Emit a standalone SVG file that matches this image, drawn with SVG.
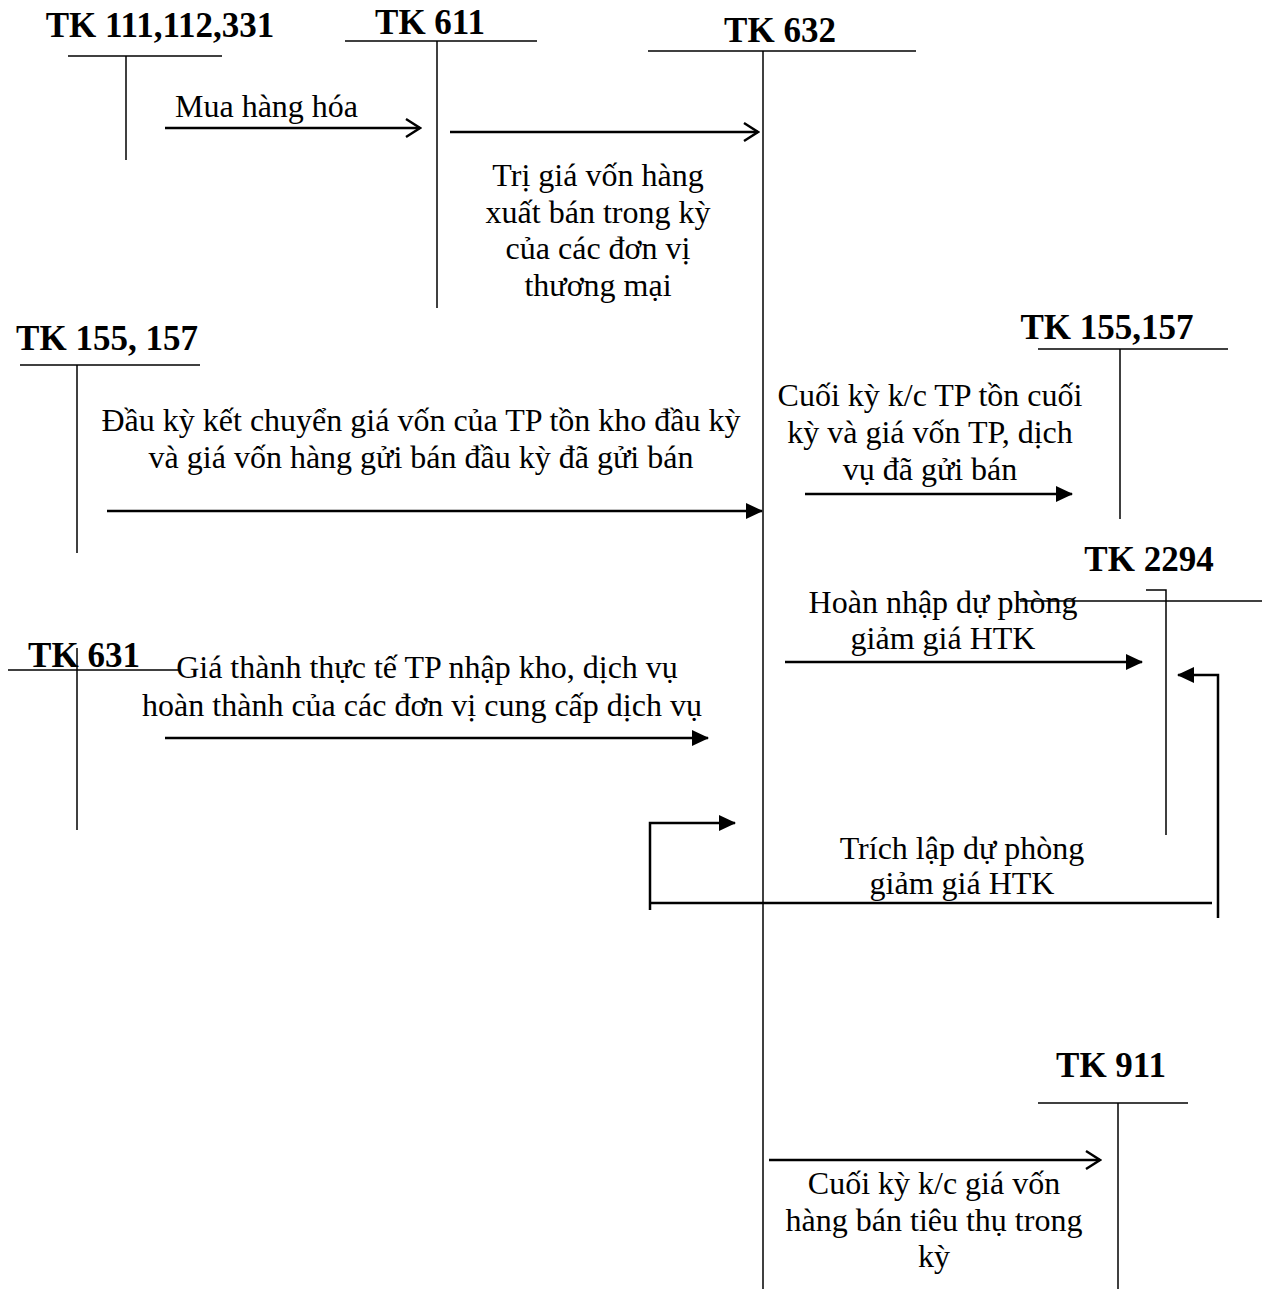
<svg xmlns="http://www.w3.org/2000/svg" width="1267" height="1289" viewBox="0 0 1267 1289">
<defs>
<marker id="open" markerWidth="18" markerHeight="22" refX="16" refY="11" orient="auto" markerUnits="userSpaceOnUse">
<path d="M2,2 L16,11 L2,20" fill="none" stroke="#000" stroke-width="2.4"/>
</marker>
<marker id="solid" markerWidth="17" markerHeight="16" refX="16" refY="8" orient="auto" markerUnits="userSpaceOnUse">
<path d="M0,0 L17,8 L0,16 Z" fill="#000"/>
</marker>
</defs>
<style>
.t{font-family:"Liberation Serif","Times New Roman",serif;font-size:32px;fill:#000}
.h{font-family:"Liberation Serif","Times New Roman",serif;font-size:35px;font-weight:bold;fill:#000}
.acc line,.acc polyline{stroke:#000;stroke-width:1.5;fill:none}
.c line,.c polyline{stroke:#000;stroke-width:2.5;fill:none}
.m{text-anchor:middle}
</style>
<rect width="1267" height="1289" fill="#fff"/>

<g id="tk111" class="acc">
<text class="h m" x="160" y="37">TK 111,112,331</text>
<line x1="68" y1="56" x2="222" y2="56"/>
<line x1="126" y1="56" x2="126" y2="160"/>
</g>
<g id="tk611" class="acc">
<text class="h m" x="430" y="34">TK 611</text>
<line x1="345" y1="41" x2="537" y2="41"/>
<line x1="437" y1="41" x2="437" y2="308"/>
</g>
<g id="tk632" class="acc">
<text class="h m" x="780" y="42">TK 632</text>
<line x1="648" y1="51" x2="916" y2="51"/>
<line x1="763" y1="51" x2="763" y2="1289"/>
</g>
<g id="tk155l" class="acc">
<text class="h m" x="107" y="350">TK 155, 157</text>
<line x1="20" y1="365" x2="200" y2="365"/>
<line x1="77" y1="365" x2="77" y2="553"/>
</g>
<g id="tk155r" class="acc">
<text class="h m" x="1107" y="339">TK 155,157</text>
<line x1="1038" y1="349" x2="1228" y2="349"/>
<line x1="1120" y1="349" x2="1120" y2="519"/>
</g>
<g id="tk2294" class="acc">
<text class="h m" x="1149" y="571">TK 2294</text>
<line x1="1020" y1="601" x2="1262" y2="601"/>
<polyline points="1146,590 1166,590 1166,835"/>
</g>
<g id="tk631" class="acc">
<text class="h m" x="84" y="667">TK 631</text>
<line x1="8" y1="670" x2="180" y2="670"/>
<line x1="77" y1="648" x2="77" y2="830"/>
</g>
<g id="tk911" class="acc">
<text class="h m" x="1111" y="1077">TK 911</text>
<line x1="1038" y1="1103" x2="1188" y2="1103"/>
<line x1="1118" y1="1103" x2="1118" y2="1289"/>
</g>

<g id="connectors" class="c">
<line x1="165" y1="128" x2="420" y2="128" marker-end="url(#open)"/>
<line x1="450" y1="132" x2="758" y2="132" marker-end="url(#open)"/>
<line x1="107" y1="511" x2="762" y2="511" marker-end="url(#solid)"/>
<line x1="805" y1="494" x2="1072" y2="494" marker-end="url(#solid)"/>
<line x1="785" y1="662" x2="1142" y2="662" marker-end="url(#solid)"/>
<polyline points="1218,918 1218,675 1178,675" marker-end="url(#solid)"/>
<line x1="1212" y1="903" x2="650" y2="903"/>
<polyline points="650,910 650,823 735,823" marker-end="url(#solid)"/>
<line x1="165" y1="738" x2="708" y2="738" marker-end="url(#solid)"/>
<line x1="769" y1="1160" x2="1100" y2="1160" marker-end="url(#open)"/>
</g>

<g id="labels">
<text class="t" x="175" y="117">Mua hàng hóa</text>
<text class="t m" x="598" y="186">Trị giá vốn hàng</text>
<text class="t m" x="598" y="223">xuất bán trong kỳ</text>
<text class="t m" x="598" y="259">của các đơn vị</text>
<text class="t m" x="598" y="296">thương mại</text>
<text class="t m" x="421" y="431">Đầu kỳ kết chuyển giá vốn của TP tồn kho đầu kỳ</text>
<text class="t m" x="421" y="468">và giá vốn hàng gửi bán đầu kỳ đã gửi bán</text>
<text class="t m" x="930" y="406">Cuối kỳ k/c TP tồn cuối</text>
<text class="t m" x="930" y="443">kỳ và giá vốn TP, dịch</text>
<text class="t m" x="930" y="480">vụ đã gửi bán</text>
<text class="t m" x="943" y="613">Hoàn nhập dự phòng</text>
<text class="t m" x="943" y="649">giảm giá HTK</text>
<text class="t m" x="427" y="678">Giá thành thực tế TP nhập kho, dịch vụ</text>
<text class="t m" x="422" y="716">hoàn thành của các đơn vị cung cấp dịch vụ</text>
<text class="t m" x="962" y="859">Trích lập dự phòng</text>
<text class="t m" x="962" y="894">giảm giá HTK</text>
<text class="t m" x="934" y="1194">Cuối kỳ k/c giá vốn</text>
<text class="t m" x="934" y="1231">hàng bán tiêu thụ trong</text>
<text class="t m" x="934" y="1267">kỳ</text>
</g>
</svg>
